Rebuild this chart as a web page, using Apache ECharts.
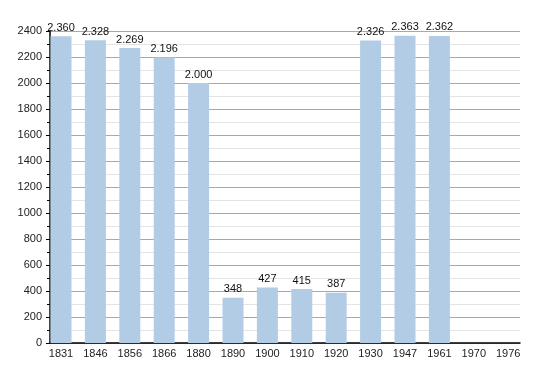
<!DOCTYPE html>
<html>
<head>
<meta charset="utf-8">
<script src="https://cdn.jsdelivr.net/npm/echarts@6/dist/echarts.min.js"></script>
<style>html,body{margin:0;padding:0;background:#fff;}#c{width:550px;height:373px;}</style>
</head>
<body>
<div id="c"></div>
<script>
var years = ['1831','1846','1856','1866','1880','1890','1900','1910','1920','1930','1947','1961','1970','1976'];
var population = [2360, 2328, 2269, 2196, 2000, 348, 427, 415, 387, 2326, 2363, 2362, null, null];
var yTicks = [0, 200, 400, 600, 800, 1000, 1200, 1400, 1600, 1800, 2000, 2200, 2400];

function fmt(v){
  var s = String(v);
  if (v >= 1000) s = s.slice(0, s.length-3) + '.' + s.slice(s.length-3);
  return s;
}
var font = 'Liberation Sans, Arial, sans-serif';
var chart = echarts.init(document.getElementById('c'), null, {renderer:'canvas'});
chart.setOption({
  animation:false,
  backgroundColor:'#ffffff',
  grid:[
    {left:50, right:30, top:31, bottom:30},
    {left:43.8, right:24.6, top:31, bottom:30}
  ],
  xAxis:[
    {gridIndex:0, type:'value', min:0, max:1, axisLine:{show:true, lineStyle:{color:'#000', width:1.5}}, axisTick:{show:false}, axisLabel:{show:false}, splitLine:{show:false}},
    {gridIndex:1, type:'category', data:years, boundaryGap:true, axisLine:{show:false}, axisTick:{show:false},
     axisLabel:{color:'#222', fontSize:11, fontFamily:font, margin:5, interval:0}}
  ],
  yAxis:[
    {gridIndex:0, type:'value', min:yTicks[0], max:yTicks[yTicks.length-1], interval:200,
     axisLine:{show:true, lineStyle:{color:'#000', width:1.5}},
     axisTick:{show:true, length:4, lineStyle:{color:'#000'}},
     minorTick:{show:true, splitNumber:2, length:3, lineStyle:{color:'#000'}},
     axisLabel:{color:'#222', fontSize:11, fontFamily:font, margin:8, formatter:function(v){return String(v);}},
     splitLine:{show:true, lineStyle:{color:'#a8a8a8', width:1}},
     minorSplitLine:{show:true, lineStyle:{color:'#e4e4e4', width:1}}
    },
    {gridIndex:1, type:'value', min:0, max:2400, show:false, splitLine:{show:false}}
  ],
  series:[{
    type:'bar', xAxisIndex:1, yAxisIndex:1, data:population, barWidth:21,
    itemStyle:{color:'#b2cce6'},
    label:{show:true, position:'top', distance:3, color:'#111', fontSize:11, fontFamily:font,
      formatter:function(p){return p.value==null?'':fmt(p.value);}}
  }]
});
</script>
</body>
</html>
